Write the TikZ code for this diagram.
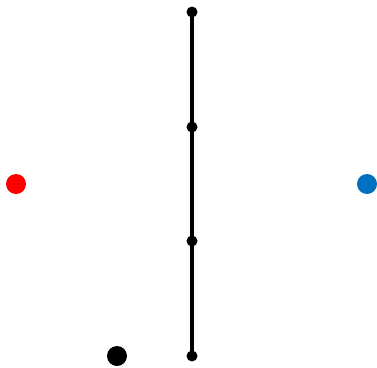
\documentclass[tikz,border=0pt]{standalone}
\usepackage{xcolor}
\usepackage{tikz}
\usetikzlibrary{positioning}
\definecolor{Red}{HTML}{FF0000}
\definecolor{Blue}{HTML}{0070C0}

\begin{document}
\begin{tikzpicture}[x=1pt,y=-1pt,
    v/.style={circle,fill=black,inner sep=0pt,minimum size=11pt},
    big/.style={circle,inner sep=0pt,minimum size=20pt},
    e/.style={line width=3.5pt,draw=black}]
    \useasboundingbox (0,0) rectangle (377,367);
    \node[v] (p1) at (192,12) {};
    \node[v] (p2) at (192,127) {};
    \node[v] (p3) at (192,241) {};
    \node[v] (p4) at (192,356) {};
    \node[big,fill=Red] (l) at (16,184) {};
    \node[big,fill=Blue] (r) at (367,184) {};
    \node[big,fill=black] (s) at (117,356) {};
    \draw[e] (p1.center)--(p2.center); \draw[e] (p2.center)--(p3.center); \draw[e] (p3.center)--(p4.center);
  \end{tikzpicture}
\end{document}
